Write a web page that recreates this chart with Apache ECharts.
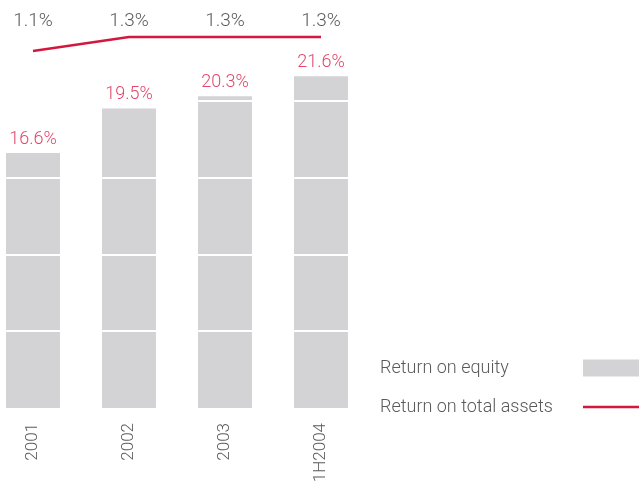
<!DOCTYPE html>
<html style="height: 100%">
    <head>
        <meta charset="utf-8">
    </head>
    <body style="height: 100%; margin: 0; background: #fff">
        <div id="container" style="width: 639px; height: 488px"></div>
        <script type="text/javascript" src="https://cdn.jsdelivr.net/npm/echarts@6/dist/echarts.min.js"></script>
    </body>
</html>
<script type="text/javascript">
    // data
    var years = ['2001', '2002', '2003', '1H2004'];
    var equityReturn = [16.6, 19.5, 20.3, 21.6];
    var assetsReturn = [1.1, 1.3, 1.3, 1.3];

    var font = 'Roboto';
    var grey = '#5a5a5a';
    var red = '#d3173e';
    var pink = '#e2486b';

    var dom = document.getElementById('container');
    var myChart = echarts.init(dom);
    var option;

    var hiddenAxis = {
      axisLine: { show: false },
      axisTick: { show: false },
      axisLabel: { show: false },
      splitLine: { show: false }
    };

    option = {
      animation: false,
      textStyle: { fontFamily: font },
      legend: {
        orient: 'vertical',
        left: 375,
        top: 354,
        align: 'right',
        itemWidth: 56,
        itemHeight: 17,
        itemGap: 21,
        data: [
          { name: 'Return on equity', icon: 'rect' },
          { name: 'Return on total assets', icon: 'path://M0,0L56,0L56,2.5L0,2.5Z' }
        ],
        formatter: function (name) { return '{t|' + name + '}'; },
        textStyle: {
          rich: {
            t: { width: 198, align: 'left', fontSize: 18, fontWeight: 300, color: grey, fontFamily: font }
          }
        }
      },
      grid: [
        { left: 33, width: 288, top: 24, height: 384 },   // bars
        { left: 33, width: 288, top: 30, height: 28 },    // line
        { left: 6, width: 342, top: 24, height: 384 }     // white rules across the bars
      ],
      xAxis: [
        {
          type: 'category',
          gridIndex: 0,
          data: years,
          boundaryGap: false,
          axisLine: { show: false },
          axisTick: { show: false },
          axisLabel: { rotate: 90, margin: 15, fontSize: 17, fontWeight: 300, color: grey }
        },
        {
          type: 'category',
          gridIndex: 1,
          position: 'top',
          data: years,
          boundaryGap: false,
          axisLine: { show: false },
          axisTick: { show: false },
          axisLabel: {
            margin: -1, fontSize: 19, fontWeight: 300, color: grey,
            formatter: function (v, i) { return assetsReturn[i].toFixed(1) + '%'; }
          }
        },
        Object.assign({ type: 'value', gridIndex: 2, min: 0, max: 1 }, hiddenAxis)
      ],
      yAxis: [
        Object.assign({ type: 'value', gridIndex: 0, min: 0, max: 25 }, hiddenAxis),
        Object.assign({ type: 'value', gridIndex: 1, min: 1.0, max: 1.4 }, hiddenAxis),
        {
          type: 'value',
          gridIndex: 2,
          min: 0,
          max: 25,
          interval: 5,
          z: 5,
          axisLine: { show: false },
          axisTick: { show: false },
          axisLabel: { show: false },
          splitLine: {
            showMinLine: false,
            showMaxLine: false,
            lineStyle: { color: '#ffffff', width: 2 }
          }
        }
      ],
      series: [
        {
          name: 'Return on equity',
          type: 'bar',
          xAxisIndex: 0,
          yAxisIndex: 0,
          barWidth: 54,
          itemStyle: { color: '#d3d3d5' },
          label: {
            show: true,
            position: 'top',
            distance: 5,
            fontSize: 18,
            fontWeight: 300,
            color: pink,
            formatter: function (p) { return p.value.toFixed(1) + '%'; }
          },
          data: equityReturn
        },
        {
          name: 'Return on total assets',
          type: 'line',
          xAxisIndex: 1,
          yAxisIndex: 1,
          symbol: 'none',
          itemStyle: { color: red },
          lineStyle: { color: red, width: 2.5 },
          data: assetsReturn
        }
      ]
    };

    if (option && typeof option === 'object') {
        myChart.setOption(option);
    }
</script>
